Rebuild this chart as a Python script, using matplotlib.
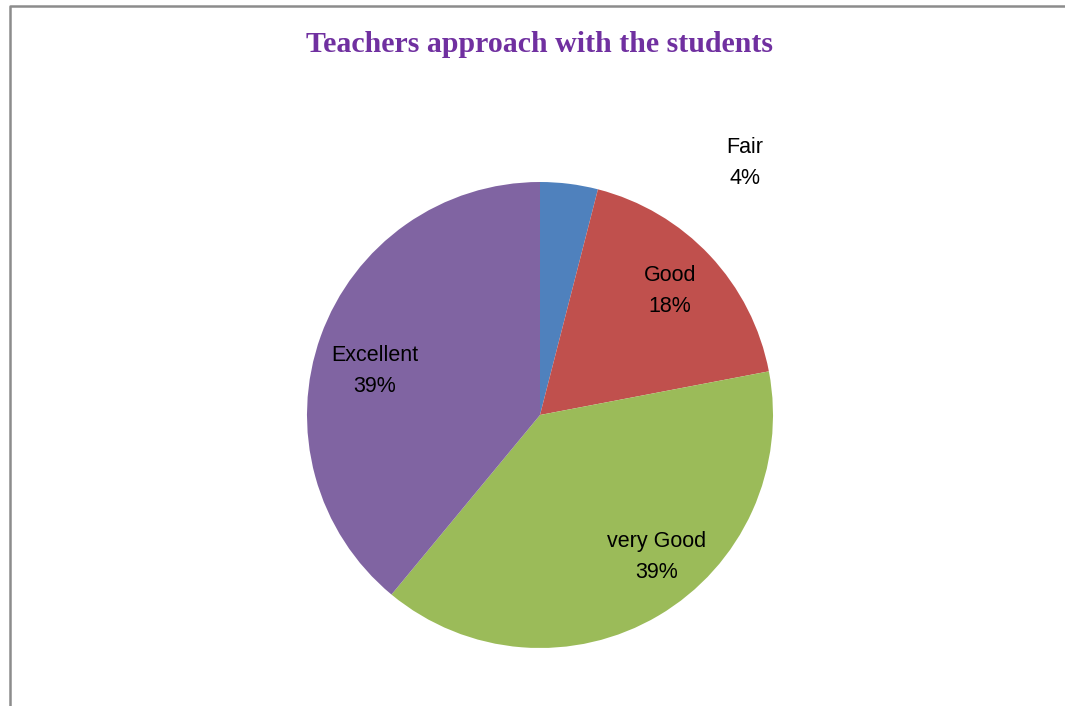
import matplotlib.pyplot as plt
from matplotlib.lines import Line2D

categories = ["Fair", "Good", "very Good", "Excellent"]
values = [4, 18, 39, 39]
colors = ["#4F81BD", "#C0504D", "#9BBB59", "#8064A2"]

W, H = 1065, 706
fig = plt.figure(figsize=(W / 100, H / 100), dpi=100)

# pie area: centre (540, 415), radius 233 px
cx, cy, R = 540, 415, 233
ax = fig.add_axes([(cx - R) / W, (H - cy - R) / H, 2 * R / W, 2 * R / H])

labels = [f"{c}\n{v}%" for c, v in zip(categories, values)]
wedges, texts = ax.pie(values, colors=colors, startangle=90, counterclock=False,
                       labels=labels, labeldistance=0.76, radius=1,
                       textprops=dict(family=["Liberation Sans", "DejaVu Sans"],
                                      fontsize=15.5, ha="center", va="center",
                                      linespacing=1.6))
ax.set_xlim(-1, 1)
ax.set_ylim(-1, 1)
ax.set_aspect("equal")

# label placement as in the original (pixel offsets from centre)
label_offsets = [(205, 252), (130, 124), (117, -142), (-165, 44)]
for t, (dx, dy) in zip(texts, label_offsets):
    t.set_position((dx / R, dy / R))

fig.text(540 / W, 1 - 45 / H, "Teachers approach with the students",
         ha="center", va="center", family=["Liberation Serif", "DejaVu Serif"],
         fontweight="bold", fontsize=21.5, color="#7030A0")

# chart frame (only left and top visible)
fig.add_artist(Line2D([10 / W, 10 / W, 1], [0, 1 - 6 / H, 1 - 6 / H],
                      color="#8C8C8C", lw=1.8, transform=fig.transFigure))

fig.savefig("out.png", dpi=100)
